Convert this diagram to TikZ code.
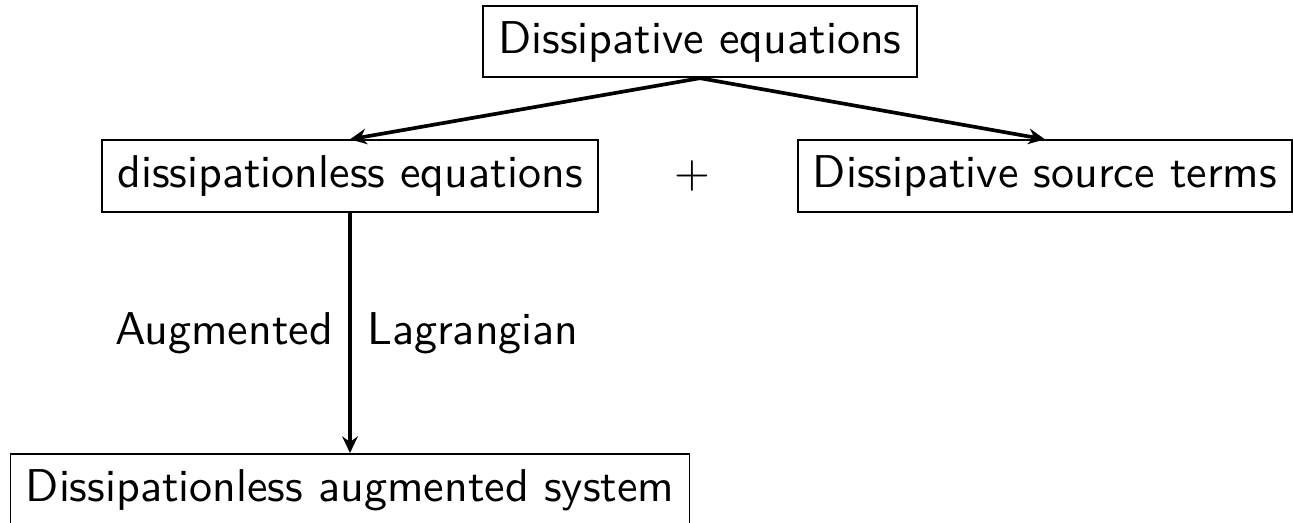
\documentclass[tikz,border=0pt]{standalone}
\usetikzlibrary{arrows.meta}
\begin{document}
\begin{tikzpicture}[x=0.2174pt,y=-0.2174pt,
  font=\sffamily,
  box/.style={draw, line width=0.4pt, inner sep=0.3333em},
  arr/.style={-{Stealth[length=3.6pt,width=3.4pt,inset=1.2pt]}, thick}]
\useasboundingbox (0,0) rectangle (1293,523);
\clip (0,0) rectangle (1293,523);
\node[box] (top) at (700,41.5) {Dissipative equations};
\node[box] (left) at (350,176) {dissipationless equations};
\node[box] (right) at (1045,176) {Dissipative source terms};
\node (plus) at (692,176) {$+$};
\node[box, anchor=north] (bot) at (350,453) {Dissipationless augmented system};
\draw[arr] (top.south) -- (left.north);
\draw[arr] (top.south) -- (right.north);
\draw[arr] (left.south) -- (bot.north) node[midway,left] (la) {Augmented} node[midway,right] (lb) {Lagrangian};
\end{tikzpicture}
\end{document}
